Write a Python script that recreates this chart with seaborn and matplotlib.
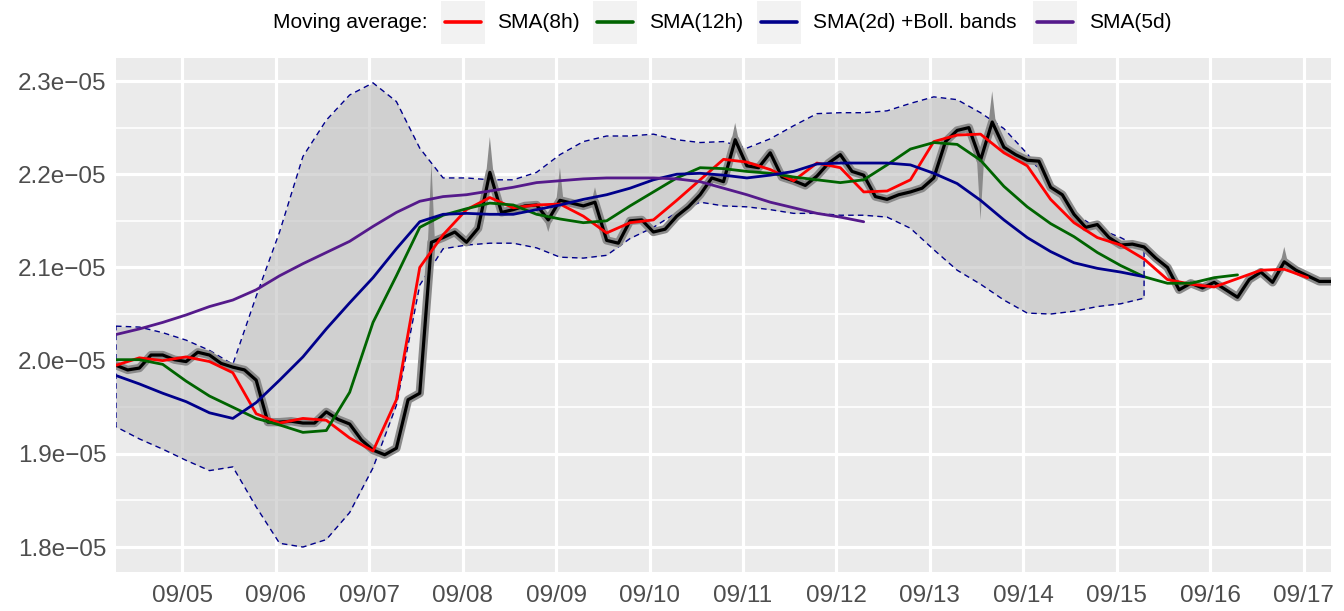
import numpy as np
import pandas as pd
import matplotlib
matplotlib.use("Agg")
import matplotlib.pyplot as plt
import matplotlib.dates as mdates
from matplotlib.patches import Rectangle, Polygon
from matplotlib.lines import Line2D
from matplotlib.ticker import FuncFormatter, FixedLocator
import seaborn as sns

# ---------------- data (values in units of 1e-5) ----------------
price_start = "2020-09-04 07:00"
price_step = "3h"
price_e5 = [1.995, 1.990, 1.992, 2.006, 2.006, 2.001, 1.999, 2.009, 2.006, 1.997,
            1.993, 1.990, 1.979, 1.934, 1.934, 1.935, 1.933, 1.933, 1.945, 1.937,
            1.932, 1.915, 1.904, 1.899, 1.906, 1.958, 1.965, 2.127, 2.132, 2.138,
            2.127, 2.142, 2.202, 2.159, 2.162, 2.166, 2.167, 2.151, 2.172, 2.169,
            2.166, 2.170, 2.129, 2.126, 2.150, 2.151, 2.138, 2.141, 2.155, 2.165,
            2.178, 2.196, 2.192, 2.237, 2.209, 2.207, 2.223, 2.197, 2.193, 2.188,
            2.198, 2.212, 2.221, 2.203, 2.199, 2.176, 2.173, 2.178, 2.181, 2.185,
            2.196, 2.235, 2.247, 2.250, 2.215, 2.256, 2.229, 2.221, 2.215, 2.214,
            2.186, 2.178, 2.157, 2.143, 2.146, 2.132, 2.124, 2.125, 2.122, 2.110,
            2.100, 2.076, 2.083, 2.078, 2.084, 2.076, 2.068, 2.087, 2.095, 2.084,
            2.106, 2.097, 2.091, 2.085, 2.085]

# short high/low spikes of the price ribbon
spike_times = ["2020-09-07 16:00", "2020-09-08 07:00", "2020-09-08 22:00", "2020-09-09 01:00",
               "2020-09-09 10:00", "2020-09-10 22:00", "2020-09-13 13:00", "2020-09-13 16:00",
               "2020-09-16 19:00"]
spike_base_e5 = [2.127, 2.202, 2.151, 2.172, 2.170, 2.237, 2.215, 2.256, 2.106]
spike_tip_e5 = [2.212, 2.240, 2.138, 2.207, 2.186, 2.255, 2.151, 2.289, 2.122]

sma_start = "2020-09-04 07:00"
sma_step = "6h"
sma8h_e5 = [1.995, 2.003, 2.000, 2.004, 1.999, 1.987, 1.943, 1.933, 1.938, 1.936,
            1.917, 1.903, 1.958, 2.100, 2.135, 2.162, 2.175, 2.164, 2.167, 2.168,
            2.155, 2.137, 2.148, 2.151, 2.172, 2.194, 2.216, 2.213, 2.205, 2.193,
            2.212, 2.207, 2.181, 2.182, 2.194, 2.235, 2.242, 2.243, 2.223, 2.209,
            2.173, 2.148, 2.132, 2.124, 2.109, 2.087, 2.082, 2.079, 2.088, 2.097,
            2.098, 2.089]
sma12h_e5 = [2.001, 2.001, 1.996, 1.978, 1.962, 1.950, 1.938, 1.931, 1.923, 1.925,
             1.966, 2.041, 2.091, 2.143, 2.156, 2.163, 2.169, 2.167, 2.157, 2.152,
             2.148, 2.150, 2.166, 2.181, 2.196, 2.207, 2.206, 2.203, 2.201, 2.197,
             2.194, 2.191, 2.194, 2.210, 2.227, 2.234, 2.232, 2.215, 2.187, 2.165,
             2.147, 2.133, 2.116, 2.102, 2.090, 2.083, 2.083, 2.089, 2.092]
sma2d_e5 = [1.984, 1.975, 1.965, 1.956, 1.944, 1.938, 1.955, 1.979, 2.004, 2.034,
            2.062, 2.089, 2.120, 2.149, 2.157, 2.158, 2.157, 2.157, 2.162, 2.167,
            2.173, 2.178, 2.185, 2.194, 2.200, 2.201, 2.199, 2.196, 2.199, 2.203,
            2.211, 2.212, 2.212, 2.212, 2.210, 2.201, 2.190, 2.172, 2.151, 2.132,
            2.117, 2.105, 2.099, 2.095, 2.090]
boll_upper_e5 = [2.037, 2.036, 2.030, 2.022, 2.011, 1.996, 2.069, 2.138, 2.219, 2.258,
                 2.285, 2.298, 2.278, 2.228, 2.196, 2.196, 2.194, 2.194, 2.202, 2.221,
                 2.235, 2.241, 2.241, 2.243, 2.237, 2.234, 2.235, 2.228, 2.238, 2.252,
                 2.265, 2.266, 2.266, 2.268, 2.276, 2.283, 2.280, 2.266, 2.249, 2.222,
                 2.188, 2.158, 2.142, 2.132, 2.119]
boll_lower_e5 = [1.929, 1.916, 1.905, 1.893, 1.882, 1.886, 1.843, 1.804, 1.800, 1.808,
                 1.837, 1.885, 1.952, 2.081, 2.120, 2.124, 2.126, 2.126, 2.121, 2.111,
                 2.110, 2.113, 2.131, 2.143, 2.159, 2.170, 2.166, 2.165, 2.162, 2.158,
                 2.158, 2.156, 2.156, 2.154, 2.142, 2.119, 2.097, 2.082, 2.065, 2.051,
                 2.050, 2.053, 2.058, 2.061, 2.067]
sma5d_e5 = [2.028, 2.034, 2.041, 2.049, 2.058, 2.065, 2.076, 2.091, 2.104, 2.116,
            2.128, 2.144, 2.159, 2.171, 2.176, 2.178, 2.182, 2.186, 2.191, 2.193,
            2.195, 2.196, 2.196, 2.196, 2.195, 2.192, 2.185, 2.178, 2.170, 2.164,
            2.158, 2.154, 2.149]

legend_title = "Moving average:"
legend_labels = ["SMA(8h)", "SMA(12h)", "SMA(2d) +Boll. bands", "SMA(5d)"]
legend_colors = ["#FF0000", "#006400", "#00008B", "#551A8B"]
y_ticks_e5 = [1.8, 1.9, 2.0, 2.1, 2.2, 2.3]
y_minor_e5 = [1.85, 1.95, 2.05, 2.15, 2.25]
x_tick_days = ["2020-09-%02d" % d for d in range(5, 18)]

# ---------------- build frames ----------------
E = 1e-5
def series(start, step, vals):
    t = pd.date_range(start, periods=len(vals), freq=step)
    return pd.DataFrame({"time": t, "value": np.asarray(vals) * E})

price = series(price_start, price_step, price_e5)
s8 = series(sma_start, sma_step, sma8h_e5)
s12 = series(sma_start, sma_step, sma12h_e5)
s2d = series(sma_start, sma_step, sma2d_e5)
up = series(sma_start, sma_step, boll_upper_e5)
lo = series(sma_start, sma_step, boll_lower_e5)
s5d = series(sma_start, sma_step, sma5d_e5)

# ---------------- figure ----------------
W, H = 1344, 611
sns.set_style("darkgrid")
plt.rcParams["font.family"] = ["Liberation Sans", "DejaVu Sans"]
fig = plt.figure(figsize=(W / 100, H / 100), dpi=100)
ax = fig.add_axes([116 / W, 1 - 572 / H, (1331 - 116) / W, (572 - 58) / H])
ax.set_facecolor("#EBEBEB")
for sp in ax.spines.values():
    sp.set_visible(False)

# Bollinger band
ax.fill_between(up["time"], lo["value"], up["value"], color="#BEBEBE", alpha=0.6,
                lw=0, zorder=2)
bx = pd.concat([up["time"], lo["time"][::-1], up["time"][:1]])
by = np.concatenate([up["value"], lo["value"][::-1], up["value"][:1]])
ax.plot(bx, by, color="#00008B", lw=1.0, ls=(0, (4, 3)), zorder=3)

# price ribbon + spikes + line
sns.lineplot(data=price, x="time", y="value", ax=ax, color="#8A8A8A", lw=6.0,
             zorder=4, solid_joinstyle="round")
half = pd.Timedelta(hours=0.9)
for ts, b, tip in zip(spike_times, spike_base_e5, spike_tip_e5):
    t0 = mdates.date2num(pd.Timestamp(ts) - half)
    t1 = mdates.date2num(pd.Timestamp(ts))
    t2 = mdates.date2num(pd.Timestamp(ts) + half)
    ax.add_patch(Polygon([(t0, b * E), (t1, tip * E), (t2, b * E)], closed=True,
                         color="#8A8A8A", lw=0, zorder=4))
sns.lineplot(data=price, x="time", y="value", ax=ax, color="black", lw=2.3, zorder=5)

# moving averages
for df, c in [(s8, legend_colors[0]), (s12, legend_colors[1]),
              (s2d, legend_colors[2]), (s5d, legend_colors[3])]:
    sns.lineplot(data=df, x="time", y="value", ax=ax, color=c, lw=2.0, zorder=6)

# axes
ax.set_xlim(price["time"].iloc[0], price["time"].iloc[-1])
ax.set_ylim(1.7732e-5, 2.3247e-5)
ax.set_xlabel("")
ax.set_ylabel("")
ax.yaxis.set_major_locator(FixedLocator([v * E for v in y_ticks_e5]))
ax.yaxis.set_minor_locator(FixedLocator([v * E for v in y_minor_e5]))
ax.yaxis.set_major_formatter(FuncFormatter(lambda v, p: ("%.1e" % v).replace("-", "\u2212")))
ax.xaxis.set_major_locator(FixedLocator(mdates.date2num(pd.to_datetime(x_tick_days))))
ax.xaxis.set_major_formatter(mdates.DateFormatter("%m/%d"))
ax.grid(which="major", color="white", lw=2.3)
ax.grid(which="minor", axis="y", color="white", lw=1.2)
ax.grid(which="minor", axis="x", visible=False)
ax.set_axisbelow(True)
ax.tick_params(axis="both", which="major", length=5, width=1.1, color="#333333",
               labelcolor="#4D4D4D", labelsize=17.5, pad=2)
ax.tick_params(axis="both", which="minor", length=0)
ax.tick_params(axis="x", pad=4)

# legend (ggplot-style, horizontal on top)
ty = 1 - 22 / H
fig.text(428 / W, ty, legend_title, ha="right", va="center", fontsize=15, color="black")
key_x = [441, 593, 757, 1033]
for kx, lab, c in zip(key_x, legend_labels, legend_colors):
    fig.add_artist(Rectangle((kx / W, 1 - 44 / H), 44 / W, 43 / H,
                             transform=fig.transFigure, color="#F2F2F2", lw=0))
    fig.add_artist(Line2D([(kx + 4) / W, (kx + 40) / W], [ty, ty],
                          transform=fig.transFigure, color=c, lw=2.6))
    fig.text((kx + 56) / W, ty, lab, ha="left", va="center", fontsize=15, color="black")

fig.savefig("out.png", dpi=100, facecolor="white")
